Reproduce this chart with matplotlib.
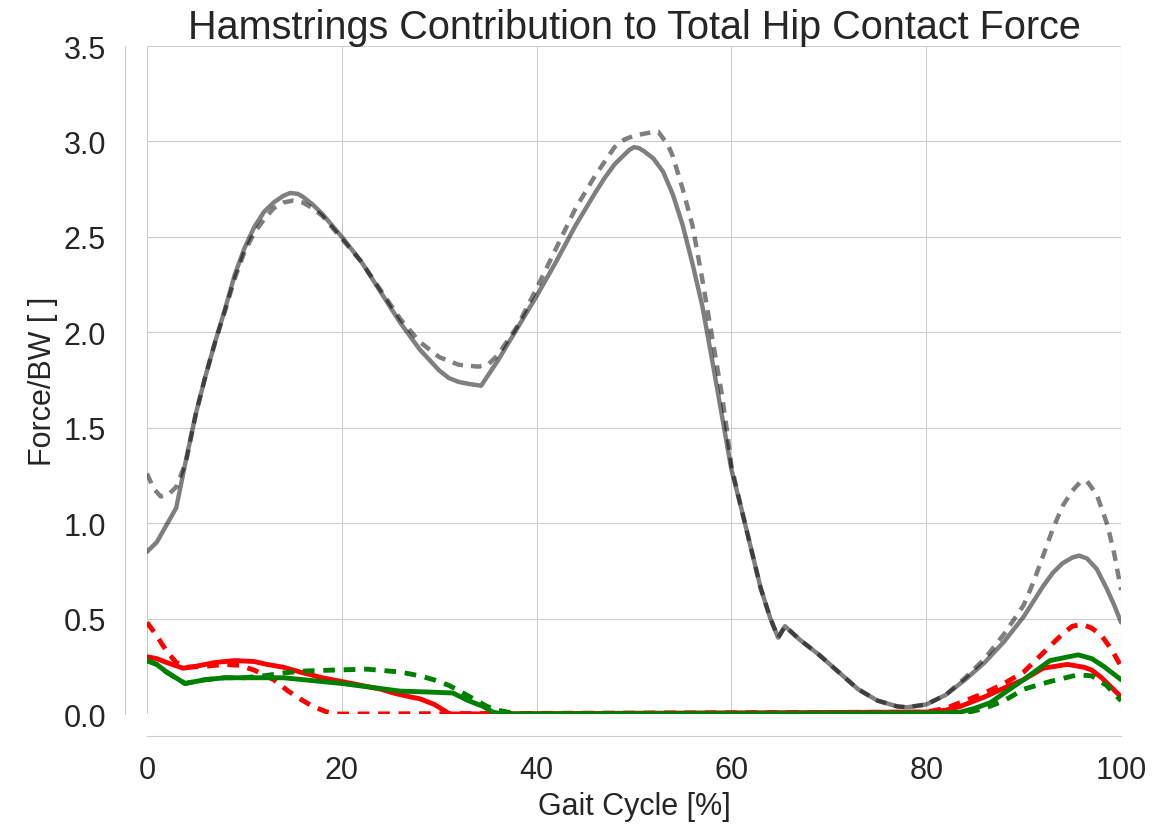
import matplotlib
matplotlib.use("Agg")
import matplotlib.pyplot as plt
import seaborn as sns

# total hip contact force, two models (solid / dashed)
hip_x = [0, 1, 3, 4, 5, 6, 7, 8, 9, 10, 11, 12, 13, 14, 14.7, 15.5, 16, 17, 18, 20, 22, 24,
         26, 28, 30, 31, 32, 33, 34.3, 36, 38, 40, 42, 44, 46, 47, 48, 49, 49.5, 50, 50.5,
         51, 52, 53, 54, 55, 56, 57, 58, 59, 60, 61, 62, 63, 64, 64.8, 65.5, 67, 69, 71,
         73, 75, 77, 78, 80, 82, 84, 86, 88, 90, 92, 93, 94, 95, 95.7, 96.5, 97.5, 98.5,
         99.3, 100]
hip_solid = [0.85, 0.90, 1.08, 1.33, 1.57, 1.77, 1.95, 2.12, 2.30, 2.44, 2.55, 2.63, 2.68,
             2.715, 2.73, 2.725, 2.71, 2.67, 2.62, 2.50, 2.37, 2.21, 2.05, 1.91, 1.80, 1.76,
             1.74, 1.73, 1.72, 1.85, 2.02, 2.19, 2.37, 2.56, 2.73, 2.81, 2.88, 2.93, 2.955,
             2.97, 2.965, 2.95, 2.91, 2.84, 2.72, 2.56, 2.36, 2.14, 1.86, 1.57, 1.28, 1.08,
             0.87, 0.66, 0.50, 0.40, 0.46, 0.39, 0.31, 0.22, 0.13, 0.07, 0.04, 0.035, 0.05,
             0.10, 0.18, 0.27, 0.38, 0.51, 0.67, 0.74, 0.79, 0.82, 0.83, 0.815, 0.76, 0.66,
             0.57, 0.48]

hip2_x = [0, 0.7, 1.4, 2.2, 3, 4, 5, 6, 7, 8, 9, 10, 11, 12, 13, 14, 15, 16, 17, 18, 20,
          22, 24, 26, 28, 30, 32, 34, 35, 36, 38, 40, 42, 44, 46, 48, 49, 50, 51, 52,
          52.5, 53.5, 54, 55, 56, 57, 58, 59, 59.5, 60, 61, 62, 63, 64, 64.8, 65.5, 67,
          69, 71, 73, 75, 77, 78, 80, 82, 84, 86, 88, 90, 91, 92, 93, 94, 95, 95.8, 96.5,
          97.5, 98.6, 99.3, 100]
hip_dashed = [1.26, 1.18, 1.14, 1.15, 1.19, 1.32, 1.57, 1.77, 1.95, 2.11, 2.28, 2.42, 2.52,
              2.59, 2.65, 2.68, 2.69, 2.68, 2.65, 2.61, 2.49, 2.37, 2.22, 2.07, 1.95, 1.87,
              1.83, 1.82, 1.83, 1.88, 2.03, 2.23, 2.44, 2.65, 2.82, 2.97, 3.01, 3.03, 3.04,
              3.05, 3.05, 2.98, 2.92, 2.75, 2.56, 2.28, 1.98, 1.68, 1.50, 1.30, 1.08, 0.87,
              0.66, 0.50, 0.40, 0.46, 0.39, 0.31, 0.22, 0.13, 0.07, 0.04, 0.035, 0.05, 0.10,
              0.19, 0.29, 0.42, 0.57, 0.69, 0.83, 0.97, 1.09, 1.17, 1.215, 1.22, 1.15, 0.99,
              0.84, 0.65]

# hamstrings contribution, two models
red_x = [0, 1, 2, 3.7, 5, 7, 9, 11, 12.3, 14, 15.7, 18, 20, 22, 24, 25.3, 27, 28, 29.5,
         31.1, 80, 82, 83.5, 86, 88.6, 90, 92, 94.5, 96.2, 97, 98, 99, 100]
red_solid = [0.30, 0.29, 0.27, 0.24, 0.25, 0.27, 0.28, 0.275, 0.26, 0.245, 0.22, 0.19,
             0.17, 0.15, 0.13, 0.11, 0.09, 0.08, 0.05, 0.0, 0.01, 0.02, 0.04, 0.09, 0.15,
             0.18, 0.24, 0.26, 0.245, 0.23, 0.19, 0.14, 0.09]

red2_x = [0, 1, 2, 3, 4, 6, 8, 9.5, 11, 13, 14.5, 15.7, 17, 18.5, 19.5, 80, 82, 84, 86,
          88, 90, 91, 92, 93, 94, 95, 96, 97, 98, 99, 100]
red_dashed = [0.48, 0.41, 0.33, 0.27, 0.245, 0.25, 0.26, 0.255, 0.23, 0.18, 0.12, 0.08,
              0.04, 0.01, 0.0, 0.01, 0.03, 0.07, 0.11, 0.16, 0.22, 0.27, 0.32, 0.37, 0.42,
              0.46, 0.47, 0.45, 0.41, 0.34, 0.25]

green_x = [0, 1, 2, 3.9, 6, 8, 10, 14, 17, 20, 23, 26, 29, 31.4, 33, 34.5, 35.5, 36.5,
           82, 83.5, 85, 86.6, 88, 90, 92.7, 95.6, 97, 98.2, 100]
green_solid = [0.28, 0.26, 0.22, 0.16, 0.18, 0.19, 0.19, 0.19, 0.175, 0.16, 0.14, 0.12,
               0.115, 0.11, 0.07, 0.04, 0.01, 0.0, 0.005, 0.01, 0.03, 0.06, 0.11, 0.18,
               0.28, 0.31, 0.29, 0.25, 0.18]

green2_x = [0, 1, 2, 3.9, 6, 8, 10, 12, 14, 16, 19, 22.6, 26, 28, 29.4, 31, 32.1, 33.5,
            34.9, 36, 37, 38.5, 84, 86, 88, 90, 92.7, 95.5, 97, 98.5, 100]
green_dashed = [0.28, 0.26, 0.22, 0.16, 0.18, 0.19, 0.19, 0.20, 0.215, 0.225, 0.23, 0.235,
                0.22, 0.20, 0.18, 0.15, 0.12, 0.08, 0.04, 0.02, 0.01, 0.0, 0.005, 0.03,
                0.07, 0.13, 0.17, 0.205, 0.20, 0.15, 0.07]

xticks = [0, 20, 40, 60, 80, 100]
yticks = [0.0, 0.5, 1.0, 1.5, 2.0, 2.5, 3.0, 3.5]


def plot():
    sns.set_style("whitegrid")
    plt.rcParams['font.family'] = ['Liberation Sans', 'DejaVu Sans']

    fig = plt.figure(figsize=(11.75, 8.29), dpi=100)
    ax = fig.add_axes([0.1251, 0.1375, 0.829, 0.8058])

    dash = (2.4, 1.8)
    ax.plot(hip_x, hip_solid, color='k', alpha=0.5, lw=3.2)
    ax.plot(hip2_x, hip_dashed, color='k', alpha=0.5, lw=3.2, ls='--', dashes=dash)
    ax.plot(red_x, red_solid, color='red', lw=3.5)
    ax.plot(red2_x, red_dashed, color='red', lw=3.5, ls='--', dashes=dash)
    ax.plot(green_x, green_solid, color='green', lw=3.5)
    ax.plot(green2_x, green_dashed, color='green', lw=3.5, ls='--', dashes=dash)

    ax.set_xlim(0, 100)
    ax.set_ylim(0, 3.5)
    ax.set_xticks(xticks)
    ax.set_yticks(yticks)
    ax.tick_params(labelsize=22, pad=10)

    ax.set_title("Hamstrings Contribution to Total Hip Contact Force", fontsize=28.5, pad=6)
    ax.set_xlabel("Gait Cycle [%]", fontsize=22)
    ax.set_ylabel("Force/BW [ ]", fontsize=22)

    sns.despine(ax=ax, offset=16, trim=True)

    fig.savefig("out.png", dpi=100)


if __name__ == "__main__":
    plot()
